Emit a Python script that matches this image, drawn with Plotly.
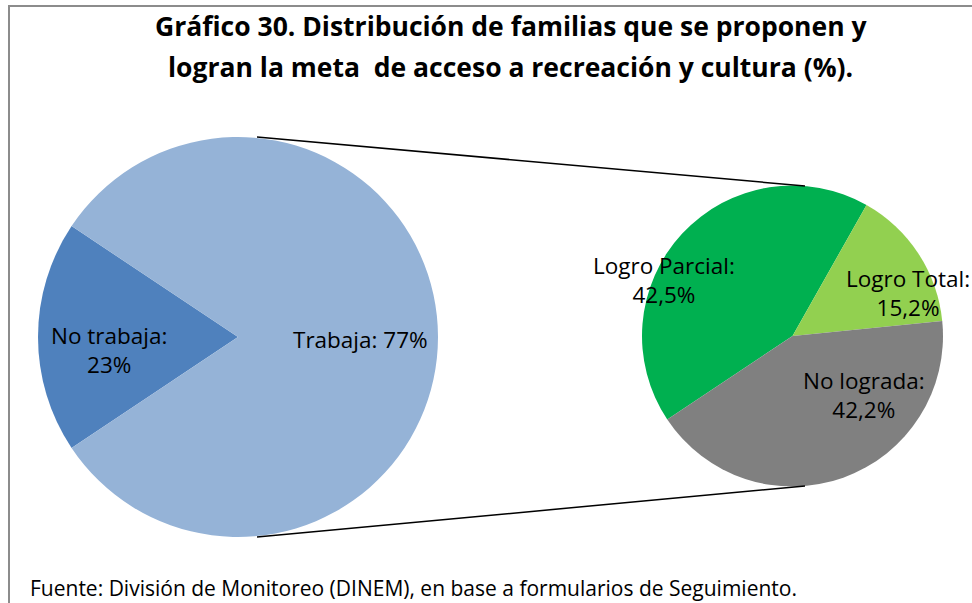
import plotly.graph_objects as go

# ---- data ----
main_labels = ["No trabaja", "Trabaja"]
main_pct = [23, 77]                      # labels shown on the main pie
sub_labels = ["Logro Parcial", "Logro Total", "No lograda"]
sub_pct = [42.5, 15.2, 42.2]             # breakdown shown in the secondary pie
title_lines = ["Gráfico 30. Distribución de familias que se proponen y",
               "logran la meta  de acceso a recreación y cultura (%)."]
source_text = "Fuente: División de Monitoreo (DINEM), en base a formularios de Seguimiento."

main_colors = ["#4F81BD", "#95B3D7"]
sub_colors = ["#00B050", "#92D050", "#808080"]

W, H = 972, 603
FONT = "Open Sans"

# Excel pie-of-pie: main pie = first point + sum of the points sent to the 2nd plot
main_values = [main_pct[0], sum(sub_pct)]
share = main_values[0] / sum(main_values)
rotation = 270 - share * 360 / 2   # first slice centred on the left


def px_x(x):
    return x / W


def px_y(y):
    return 1 - y / H


def dom(cx, cy, r):
    return dict(x=[px_x(cx - r), px_x(cx + r)], y=[px_y(cy + r), px_y(cy - r)])


fig = go.Figure()
fig.add_trace(go.Pie(
    labels=main_labels, values=main_values, sort=False, direction="clockwise",
    rotation=rotation, textinfo="none", hoverinfo="label+percent",
    marker=dict(colors=main_colors, line=dict(width=0)),
    domain=dom(238, 337, 200), showlegend=False))
fig.add_trace(go.Pie(
    labels=sub_labels, values=sub_pct, sort=False, direction="clockwise",
    rotation=rotation, textinfo="none", hoverinfo="label+value",
    marker=dict(colors=sub_colors, line=dict(width=0)),
    domain=dom(792.5, 336, 150.5), showlegend=False))


def fmt(v):
    s = f"{v:g}" if float(v).is_integer() else f"{v:.1f}"
    return s.replace(".", ",") + "%"


lab_font = dict(family=FONT, size=22.5, color="#000000")
ann = []
# main pie labels
ann.append(dict(x=px_x(109), y=px_y(350), text=f"{main_labels[0]}:<br>{fmt(main_pct[0])}"))
ann.append(dict(x=px_x(360), y=px_y(339), text=f"{main_labels[1]}: {fmt(main_pct[1])}"))
# secondary pie labels
sub_pos = [(664, 280), (908, 293), (864, 395)]
for (x, y), l, v in zip(sub_pos, sub_labels, sub_pct):
    ann.append(dict(x=px_x(x), y=px_y(y), text=f"{l}:<br>{fmt(v)}"))
for a in ann:
    a.update(xref="paper", yref="paper", showarrow=False, font=lab_font,
             xanchor="center", yanchor="middle", align="center")

# title (two lines placed separately to match the wide line spacing)
for txt, yc in zip(title_lines, [26, 67]):
    ann.append(dict(x=px_x(511), y=px_y(yc), xref="paper", yref="paper", showarrow=False,
                    text="<b>" + txt + "</b>",
                    font=dict(family=FONT, size=26.5, color="#000000"),
                    xanchor="center", yanchor="middle", align="center"))
# source
ann.append(dict(x=px_x(28), y=px_y(588), xref="paper", yref="paper", showarrow=False,
                text=source_text, font=dict(family=FONT, size=21, color="#000000"),
                xanchor="left", yanchor="middle", align="left"))

shapes = [
    # chart-area frame (cropped on right/bottom)
    dict(type="rect", xref="paper", yref="paper", x0=px_x(9), x1=1.2, y0=-0.2, y1=px_y(6),
         line=dict(color="#8C8C8C", width=2), fillcolor="rgba(0,0,0,0)", layer="below"),
    # connector lines
    dict(type="line", xref="paper", yref="paper", x0=px_x(257), y0=px_y(137),
         x1=px_x(805), y1=px_y(186), line=dict(color="#000000", width=1.5)),
    dict(type="line", xref="paper", yref="paper", x0=px_x(257), y0=px_y(537),
         x1=px_x(805), y1=px_y(486), line=dict(color="#000000", width=1.5)),
]

fig.update_layout(width=W, height=H, margin=dict(l=0, r=0, t=0, b=0),
                  paper_bgcolor="white", plot_bgcolor="white",
                  annotations=ann, shapes=shapes, showlegend=False)
fig.write_html("out.html", config={"displayModeBar": False},
               post_script="document.body.style.margin='0';document.body.style.overflow='hidden';")
